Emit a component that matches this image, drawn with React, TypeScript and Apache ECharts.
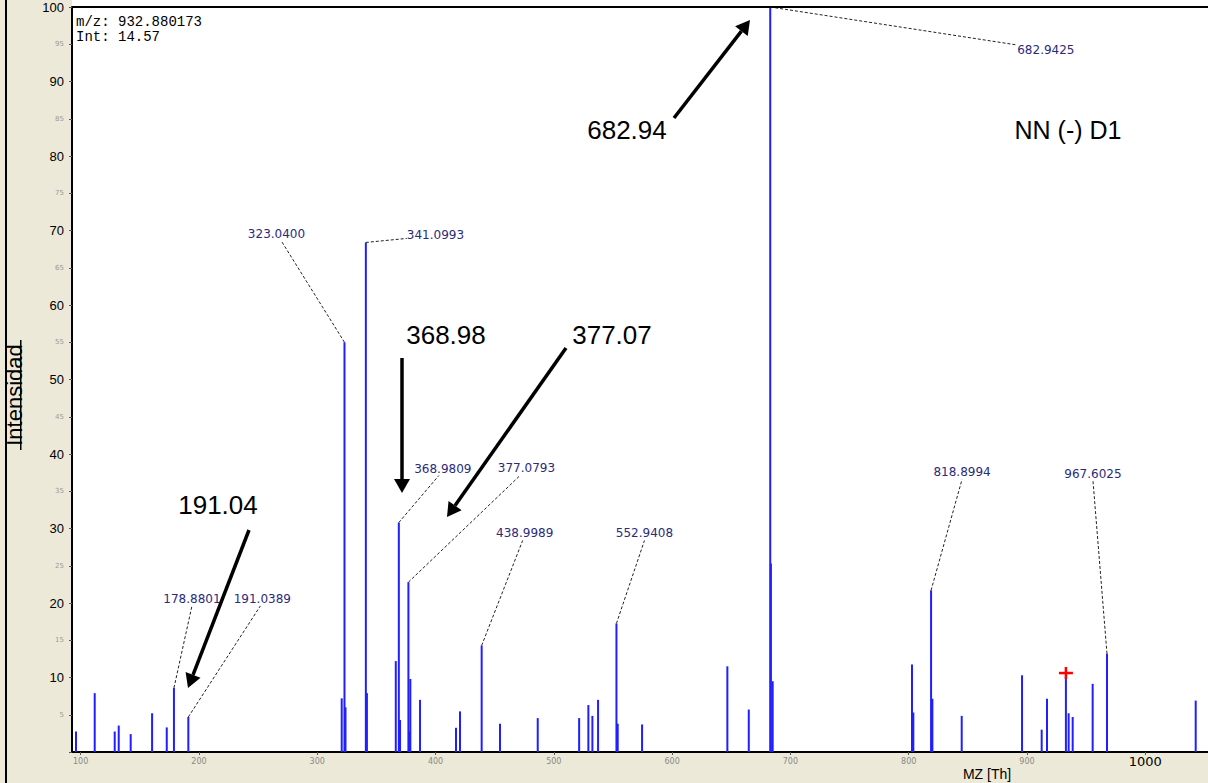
import { useEffect, useRef } from "react";
import * as echarts from "echarts";

// ---- data ----
const peakMz = [
  96.1, 111.9, 128.8, 132.2, 142.3, 160.4, 172.8, 178.88, 191.04, 320.7, 323.04, 323.9,
  341.1, 342.0, 366.4, 368.98, 370.0, 377.08, 377.6, 378.7, 386.9, 417.3, 420.7, 439.0,
  454.5, 486.4, 521.4, 529.2, 532.6, 537.4, 552.94, 554.0, 574.6, 646.7, 664.8, 682.94,
  683.5, 685.0, 802.8, 803.9, 818.9, 820.0, 844.8, 895.8, 912.4, 916.9, 932.88, 935.2,
  938.6, 955.5, 967.6, 1042.6,
];
const peakInt = [
  2.75, 7.9, 2.75, 3.55, 2.4, 5.2, 3.3, 8.6, 4.7, 7.2, 55.0, 6.0,
  68.4, 7.9, 12.2, 30.8, 4.3, 22.8, 2.75, 9.8, 7.0, 3.25, 5.45, 14.3,
  3.8, 4.55, 4.55, 6.3, 4.85, 7.0, 17.25, 3.8, 3.7, 11.5, 5.7, 100,
  25.3, 9.5, 11.75, 5.3, 21.7, 7.15, 4.85, 10.3, 3.0, 7.15, 10.05, 5.2,
  4.7, 9.15, 13.2, 6.9,
];
const labelMz = [178.88, 191.04, 323.04, 341.1, 368.98, 377.08, 439.0, 552.94, 682.94, 818.9, 967.6];
const labelInt = [8.6, 4.7, 55.0, 68.4, 30.8, 22.8, 14.3, 17.25, 100, 21.7, 13.2];
const labelText = [
  "178.8801", "191.0389", "323.0400", "341.0993", "368.9809", "377.0793",
  "438.9989", "552.9408", "682.9425", "818.8994", "967.6025",
];
const xTicks = [100, 200, 300, 400, 500, 600, 700, 800, 900, 1000];
const cursorPoint = [932.88, 10.6];
const cursorInfo = ["m/z: 932.880173", "Int: 14.57"];
const bigNotes = ["682.94", "368.98", "377.07", "191.04"];
const sampleName = "NN (-) D1";
const yTitle = "Intensidad";
const xTitle = "MZ [Th]";

// ---- layout (pixel offsets of leader lines / labels) ----
const labelLayout = [
  { dx: 18, dy: -82, tx: 0, ty: -7, align: "center" },
  { dx: 72, dy: -111, tx: 2, ty: -7, align: "center" },
  { dx: -63, dy: -101, tx: -5, ty: -7, align: "center" },
  { dx: 41, dy: -4, tx: 0, ty: -3, align: "left" },
  { dx: 40, dy: -47, tx: 4, ty: -7, align: "center" },
  { dx: 112, dy: -107, tx: 6, ty: -7, align: "center" },
  { dx: 41, dy: -105, tx: 2, ty: -7, align: "center" },
  { dx: 28, dy: -83, tx: 0, ty: -7, align: "center" },
  { dx: 247, dy: 38, tx: 0, ty: 5, align: "left" },
  { dx: 31, dy: -111, tx: 0, ty: -7, align: "center" },
  { dx: -14, dy: -173, tx: 0, ty: -7, align: "center" },
];
const notePos = [
  [627, 130],
  [446, 335],
  [612, 335],
  [218, 505],
];
const arrows = [
  [674, 118, 750, 20],
  [402, 358, 402, 493],
  [566, 348, 447, 517],
  [249, 530, 188, 688],
];

function arrow(x1: number, y1: number, x2: number, y2: number) {
  const ang = Math.atan2(y2 - y1, x2 - x1);
  const L = 14;
  const W = 8;
  const bx = x2 - L * Math.cos(ang);
  const by = y2 - L * Math.sin(ang);
  const px = -Math.sin(ang) * W;
  const py = Math.cos(ang) * W;
  return [
    { type: "line", z: 100, shape: { x1, y1, x2: bx, y2: by }, style: { stroke: "#000", lineWidth: 3.5 } },
    {
      type: "polygon",
      z: 100,
      shape: { points: [[x2, y2], [bx + px, by + py], [bx - px, by - py]] },
      style: { fill: "#000" },
    },
  ];
}

export default function App() {
  const ref = useRef<HTMLDivElement>(null);
  useEffect(() => {
    if (!ref.current) return;
    document.body.style.margin = "0";
    const chart = echarts.init(ref.current, null, { renderer: "svg" });
    const graphics: any[] = [
      { type: "rect", z: -1, silent: true, shape: { x: 72, y: 0, width: 1136, height: 8 }, style: { fill: "#fff" } },
      { type: "rect", z: 50, silent: true, shape: { x: 72, y: 6, width: 1136, height: 2 }, style: { fill: "#000" } },
      { type: "rect", z: 50, silent: true, shape: { x: 5, y: 0, width: 2, height: 783 }, style: { fill: "#000" } },
      {
        type: "text",
        z: 60,
        x: 14,
        y: 395,
        rotation: Math.PI / 2,
        style: {
          text: yTitle,
          font: '22px "Liberation Sans", Arial, sans-serif',
          fill: "#000",
          align: "center",
          verticalAlign: "middle",
        },
      },
      { type: "rect", z: 60, shape: { x: 20, y: 340, width: 1.5, height: 110 }, style: { fill: "#000" } },
      {
        type: "text",
        z: 60,
        x: 987,
        y: 774,
        style: {
          text: xTitle,
          font: '14px "Liberation Sans", Arial, sans-serif',
          fill: "#000",
          align: "center",
          verticalAlign: "middle",
        },
      },
      {
        type: "text",
        z: 60,
        x: 76,
        y: 22,
        style: { text: cursorInfo[0], font: '14px "Liberation Mono", monospace', fill: "#000", verticalAlign: "middle" },
      },
      {
        type: "text",
        z: 60,
        x: 76,
        y: 37,
        style: { text: cursorInfo[1], font: '14px "Liberation Mono", monospace', fill: "#000", verticalAlign: "middle" },
      },
      {
        type: "text",
        z: 100,
        x: 1068,
        y: 130,
        style: {
          text: sampleName,
          font: '25px "Liberation Sans", Arial, sans-serif',
          fill: "#000",
          align: "center",
          verticalAlign: "middle",
        },
      },
    ];
    bigNotes.forEach((t, i) => {
      graphics.push({
        type: "text",
        z: 100,
        x: notePos[i][0],
        y: notePos[i][1],
        style: {
          text: t,
          font: '26px "Liberation Sans", Arial, sans-serif',
          fill: "#000",
          align: "center",
          verticalAlign: "middle",
        },
      });
    });
    arrows.forEach((a) => graphics.push(...arrow(a[0], a[1], a[2], a[3])));

    chart.setOption({
      animation: false,
      backgroundColor: "#ECE9D8",
      grid: {
        left: 72,
        right: 0,
        top: 7,
        bottom: 31,
        show: true,
        backgroundColor: "#fff",
        borderWidth: 0,
        containLabel: false,
        outerBoundsMode: "none",
      },
      xAxis: {
        type: "value",
        min: 92.7,
        max: 1053,
        splitLine: { show: false },
        axisLine: { show: true, onZero: false, lineStyle: { color: "#000", width: 2 } },
        axisTick: { show: true, customValues: xTicks, length: 3, lineStyle: { color: "#555" } },
        axisLabel: {
          customValues: xTicks,
          margin: 1,
          formatter: (v: number) => (v === 1000 ? `{big|${v}}` : `{sm|${v}}`),
          rich: {
            sm: { fontSize: 8, color: "#888", fontFamily: '"DejaVu Sans", sans-serif', lineHeight: 16 },
            big: { fontSize: 13, color: "#000", fontFamily: '"DejaVu Sans", sans-serif', lineHeight: 16 },
          },
        },
      },
      yAxis: {
        type: "value",
        min: 0,
        max: 100,
        interval: 5,
        splitLine: { show: false },
        axisLine: { show: true, lineStyle: { color: "#000", width: 2 } },
        axisTick: { show: true, length: 3, lineStyle: { color: "#555" } },
        axisLabel: {
          margin: 8,
          formatter: (v: number) =>
            v === 0 ? "" : v % 10 === 0 ? `{maj|${v}}` : `{min|${v}}`,
          rich: {
            maj: { fontSize: 13, color: "#000", fontFamily: '"Liberation Sans", Arial, sans-serif' },
            min: { fontSize: 7, color: "#999", fontFamily: '"DejaVu Sans", sans-serif' },
          },
        },
      },
      graphic: graphics,
      series: [
        {
          type: "custom",
          name: "peaks",
          data: peakMz.map((m, i) => [m, peakInt[i]]),
          encode: { x: 0, y: 1 },
          renderItem: (params: any, api: any) => {
            const m = api.value(0);
            const v = api.value(1);
            const b = api.coord([m, 0]);
            const t = api.coord([m, v]);
            return {
              type: "rect",
              shape: { x: b[0] - 1, y: t[1], width: 2, height: b[1] - t[1] },
              style: { fill: "#1f1fff" },
            };
          },
        },
        {
          type: "custom",
          name: "labels",
          clip: false,
          z: 5,
          data: labelMz.map((m, i) => [m, labelInt[i], i]),
          encode: { x: 0, y: 1 },
          renderItem: (params: any, api: any) => {
            const i = api.value(2);
            const t = api.coord([api.value(0), api.value(1)]);
            const L = labelLayout[i];
            const ex = t[0] + L.dx;
            const ey = t[1] + L.dy;
            return {
              type: "group",
              children: [
                {
                  type: "line",
                  shape: { x1: t[0], y1: t[1], x2: ex, y2: ey },
                  style: { stroke: "#222", lineWidth: 1, lineDash: [3, 2] },
                },
                {
                  type: "text",
                  x: ex + L.tx,
                  y: ey + L.ty,
                  style: {
                    text: labelText[i],
                    fill: "#2b2b7a",
                    font: '12px "DejaVu Sans", sans-serif',
                    align: L.align,
                    verticalAlign: "middle",
                  },
                },
              ],
            };
          },
        },
        {
          type: "custom",
          name: "cursor",
          z: 6,
          data: [cursorPoint],
          encode: { x: 0, y: 1 },
          renderItem: (params: any, api: any) => {
            const p = api.coord([api.value(0), api.value(1)]);
            return {
              type: "group",
              children: [
                { type: "line", shape: { x1: p[0] - 7, y1: p[1], x2: p[0] + 7, y2: p[1] }, style: { stroke: "#ff0000", lineWidth: 2.5 } },
                { type: "line", shape: { x1: p[0], y1: p[1] - 6, x2: p[0], y2: p[1] + 6 }, style: { stroke: "#ff0000", lineWidth: 2.5 } },
              ],
            };
          },
        },
      ],
    });
    return () => chart.dispose();
  }, []);
  return <div ref={ref} style={{ position: "fixed", left: 0, top: 0, width: 1208, height: 783 }} />;
}
